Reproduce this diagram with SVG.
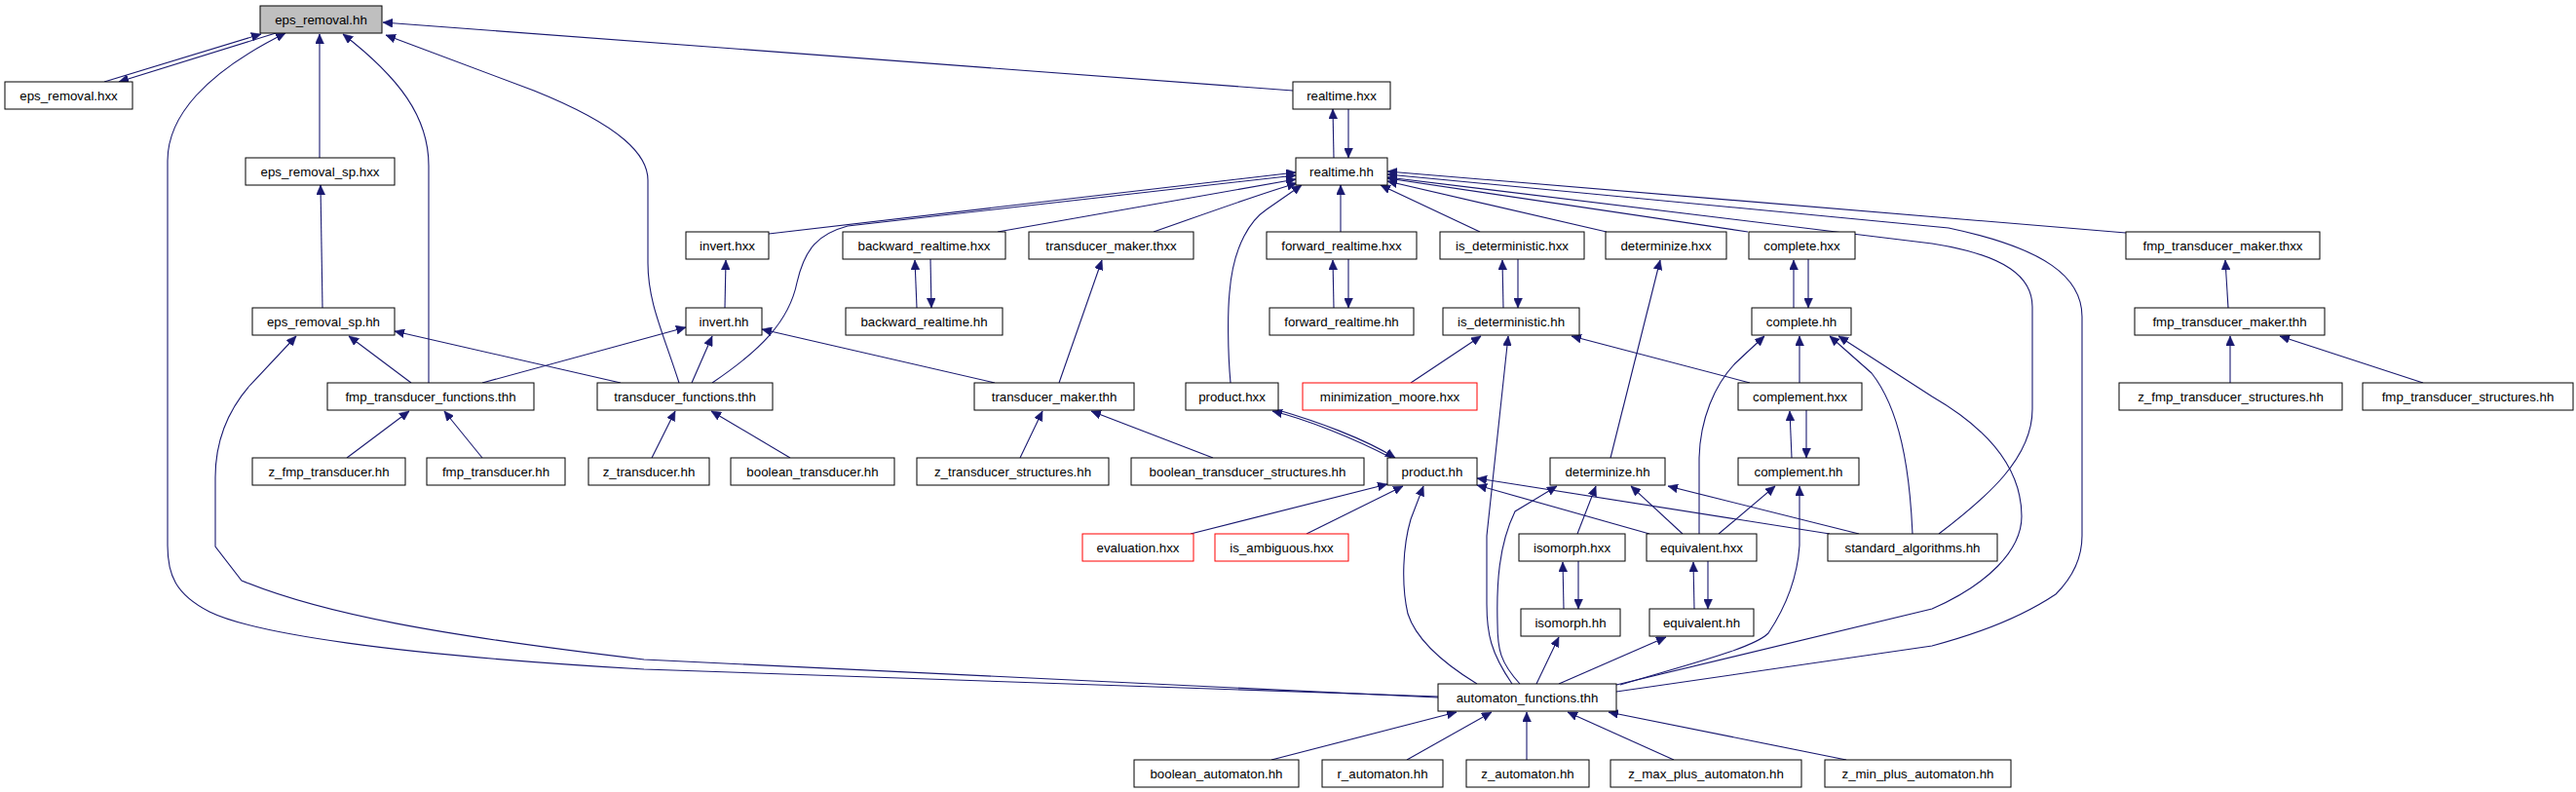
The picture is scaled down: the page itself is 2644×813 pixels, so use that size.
<svg xmlns="http://www.w3.org/2000/svg" width="2644" height="813" viewBox="0 0 2644 813">
<style>
rect{fill:#fff;stroke:#000;stroke-width:1}
rect.root{fill:#bfbfbf}
rect.red{stroke:#f00}
text{font-family:"Liberation Sans",Arial,sans-serif;font-size:13.3px;fill:#000;text-anchor:middle}
#edges path{fill:none;stroke:#191970;stroke-width:1.1;marker-end:url(#arr)}
</style>
<defs>
<marker id="arr" markerWidth="10" markerHeight="9" refX="10" refY="4.5" orient="auto" markerUnits="userSpaceOnUse"><path d="M0,0 L10,4.5 L0,9 z" fill="#191970" stroke="#191970" stroke-width="0.5"/></marker>
</defs>
<rect x="0" y="0" width="2644" height="813" style="fill:#fff;stroke:none"/>
<g id="edges">
<path d="M107,84 L268,35"/>
<path d="M283,34 L122,84"/>
<path d="M1476,715 L661,687 C400,672 260,650 215,628 C180,610 172,590 172,560 L172,165 C172,120 210,75 293,34"/>
<path d="M1476,716 L661,677 C450,652 330,630 248,596 L221,561 L221,490 C221,450 235,420 257,395 L304,345"/>
<path d="M328,162 L328,35"/>
<path d="M331,316 L329,190"/>
<path d="M440,393 L440,170 C440,120 410,80 352,35"/>
<path d="M697,393 C680,340 665,310 665,270 L665,185 C665,160 640,130 548,93 L396,36"/>
<path d="M1327,93 L393,23"/>
<path d="M1369,162 L1368,112"/>
<path d="M1384,112 L1384,162"/>
<path d="M789,240 L1330,177"/>
<path d="M731,393 C780,360 810,330 818,290 C826,255 840,240 870,232 L1330,180"/>
<path d="M1024,238 L1330,184"/>
<path d="M1184,238 C1230,222 1290,200 1331,188"/>
<path d="M1263,393 C1260,360 1260,320 1262,300 C1266,250 1285,225 1300,215 L1336,190"/>
<path d="M1376,238 L1376,190"/>
<path d="M1519,238 L1417,190"/>
<path d="M1649,238 L1424,186"/>
<path d="M1794,238 L1424,183"/>
<path d="M2182,239 L1424,176"/>
<path d="M1659,710 L1983,663 C2040,648 2080,630 2110,610 C2130,590 2137,570 2137,550 L2137,325 C2137,285 2100,255 2000,234 L1424,179"/>
<path d="M1990,548 C2040,510 2086,470 2086,420 L2086,315 C2086,285 2060,262 1983,250 L1424,182"/>
<path d="M1659,703 L1983,625 C2040,600 2075,565 2075,530 C2075,480 2040,440 1983,407 L1887,345"/>
<path d="M1963,548 C1960,480 1950,420 1921,383 L1878,345"/>
<path d="M1744,548 L1744,470 C1745,430 1760,395 1781,373 L1811,345"/>
<path d="M1847,393 L1847,345"/>
<path d="M1841,316 L1841,267"/>
<path d="M1856,266 L1856,316"/>
<path d="M1543,316 L1542,267"/>
<path d="M1558,266 L1558,316"/>
<path d="M1369,316 L1368,267"/>
<path d="M1384,266 L1384,316"/>
<path d="M941,316 L939,267"/>
<path d="M955,266 L956,316"/>
<path d="M1653,470 L1704,267"/>
<path d="M1087,393 L1131,267"/>
<path d="M744,316 L745,267"/>
<path d="M495,393 L704,336"/>
<path d="M710,393 L731,345"/>
<path d="M1021,393 L782,338"/>
<path d="M422,393 L358,345"/>
<path d="M637,393 L405,340"/>
<path d="M356,470 L420,422"/>
<path d="M495,470 L456,422"/>
<path d="M669,470 L693,422"/>
<path d="M811,470 L730,422"/>
<path d="M1047,470 L1070,422"/>
<path d="M1245,470 L1120,422"/>
<path d="M1448,393 L1520,345"/>
<path d="M1796,393 L1613,345"/>
<path d="M1552,702 C1530,670 1526,650 1526,620 L1526,550 L1548,345"/>
<path d="M1428,470 C1390,450 1340,430 1306,422"/>
<path d="M1312,421 C1350,432 1400,450 1432,470"/>
<path d="M1222,548 L1424,497"/>
<path d="M1341,548 L1440,499"/>
<path d="M1516,702 C1480,680 1453,655 1445,630 C1438,600 1440,560 1448,533 L1461,499"/>
<path d="M1693,548 L1516,498"/>
<path d="M1878,548 L1516,491"/>
<path d="M1560,702 C1540,680 1537,667 1537,640 C1536,600 1538,560 1555,525 L1598,499"/>
<path d="M1619,548 L1638,499"/>
<path d="M1727,548 L1674,499"/>
<path d="M1908,548 L1712,499"/>
<path d="M1839,470 L1837,422"/>
<path d="M1854,421 L1854,470"/>
<path d="M1764,548 L1822,499"/>
<path d="M1663,703 C1740,680 1800,665 1815,650 C1835,620 1845,590 1847,560 L1847,499"/>
<path d="M1605,625 L1604,577"/>
<path d="M1620,576 L1620,625"/>
<path d="M1739,625 L1738,577"/>
<path d="M1753,576 L1753,625"/>
<path d="M1577,702 L1600,654"/>
<path d="M1600,702 L1710,654"/>
<path d="M1305,780 L1495,731"/>
<path d="M1444,780 L1531,731"/>
<path d="M1567,780 L1567,731"/>
<path d="M1718,780 L1609,731"/>
<path d="M1895,780 L1651,731"/>
<path d="M2287,316 L2284,267"/>
<path d="M2289,393 L2289,345"/>
<path d="M2487,393 L2340,345"/>
</g>
<g id="n_eps_removal_hh"><rect class="root" x="267" y="6" width="125" height="28"/><text x="329.5" y="24.5">eps_removal.hh</text></g>
<g id="n_eps_removal_hxx"><rect x="5" y="84" width="131" height="28"/><text x="70.5" y="102.5">eps_removal.hxx</text></g>
<g id="n_realtime_hxx"><rect x="1327" y="84" width="100" height="28"/><text x="1377" y="102.5">realtime.hxx</text></g>
<g id="n_eps_removal_sp_hxx"><rect x="252" y="162" width="153" height="28"/><text x="328.5" y="180.5">eps_removal_sp.hxx</text></g>
<g id="n_realtime_hh"><rect x="1330" y="162" width="94" height="28"/><text x="1377" y="180.5">realtime.hh</text></g>
<g id="n_invert_hxx"><rect x="704" y="238" width="85" height="28"/><text x="746.5" y="256.5">invert.hxx</text></g>
<g id="n_backward_realtime_hxx"><rect x="865" y="238" width="167" height="28"/><text x="948.5" y="256.5">backward_realtime.hxx</text></g>
<g id="n_transducer_maker_thxx"><rect x="1056" y="238" width="169" height="28"/><text x="1140.5" y="256.5">transducer_maker.thxx</text></g>
<g id="n_forward_realtime_hxx"><rect x="1300" y="238" width="154" height="28"/><text x="1377" y="256.5">forward_realtime.hxx</text></g>
<g id="n_is_deterministic_hxx"><rect x="1478" y="238" width="148" height="28"/><text x="1552" y="256.5">is_deterministic.hxx</text></g>
<g id="n_determinize_hxx"><rect x="1648" y="238" width="124" height="28"/><text x="1710" y="256.5">determinize.hxx</text></g>
<g id="n_complete_hxx"><rect x="1795" y="238" width="109" height="28"/><text x="1849.5" y="256.5">complete.hxx</text></g>
<g id="n_fmp_transducer_maker_thxx"><rect x="2182" y="238" width="199" height="28"/><text x="2281.5" y="256.5">fmp_transducer_maker.thxx</text></g>
<g id="n_eps_removal_sp_hh"><rect x="259" y="316" width="146" height="28"/><text x="332" y="334.5">eps_removal_sp.hh</text></g>
<g id="n_invert_hh"><rect x="704" y="316" width="78" height="28"/><text x="743" y="334.5">invert.hh</text></g>
<g id="n_backward_realtime_hh"><rect x="868" y="316" width="161" height="28"/><text x="948.5" y="334.5">backward_realtime.hh</text></g>
<g id="n_forward_realtime_hh"><rect x="1303" y="316" width="148" height="28"/><text x="1377" y="334.5">forward_realtime.hh</text></g>
<g id="n_is_deterministic_hh"><rect x="1481" y="316" width="140" height="28"/><text x="1551" y="334.5">is_deterministic.hh</text></g>
<g id="n_complete_hh"><rect x="1798" y="316" width="102" height="28"/><text x="1849" y="334.5">complete.hh</text></g>
<g id="n_fmp_transducer_maker_thh"><rect x="2191" y="316" width="195" height="28"/><text x="2288.5" y="334.5">fmp_transducer_maker.thh</text></g>
<g id="n_fmp_transducer_functions_thh"><rect x="336" y="393" width="212" height="28"/><text x="442" y="411.5">fmp_transducer_functions.thh</text></g>
<g id="n_transducer_functions_thh"><rect x="613" y="393" width="180" height="28"/><text x="703" y="411.5">transducer_functions.thh</text></g>
<g id="n_transducer_maker_thh"><rect x="1000" y="393" width="164" height="28"/><text x="1082" y="411.5">transducer_maker.thh</text></g>
<g id="n_product_hxx"><rect x="1217" y="393" width="95" height="28"/><text x="1264.5" y="411.5">product.hxx</text></g>
<g id="n_minimization_moore_hxx"><rect class="red" x="1337" y="393" width="179" height="28"/><text x="1426.5" y="411.5">minimization_moore.hxx</text></g>
<g id="n_complement_hxx"><rect x="1784" y="393" width="127" height="28"/><text x="1847.5" y="411.5">complement.hxx</text></g>
<g id="n_z_fmp_transducer_structures_hh"><rect x="2175" y="393" width="229" height="28"/><text x="2289.5" y="411.5">z_fmp_transducer_structures.hh</text></g>
<g id="n_fmp_transducer_structures_hh"><rect x="2425" y="393" width="216" height="28"/><text x="2533" y="411.5">fmp_transducer_structures.hh</text></g>
<g id="n_z_fmp_transducer_hh"><rect x="259" y="470" width="157" height="28"/><text x="337.5" y="488.5">z_fmp_transducer.hh</text></g>
<g id="n_fmp_transducer_hh"><rect x="438" y="470" width="142" height="28"/><text x="509" y="488.5">fmp_transducer.hh</text></g>
<g id="n_z_transducer_hh"><rect x="604" y="470" width="124" height="28"/><text x="666" y="488.5">z_transducer.hh</text></g>
<g id="n_boolean_transducer_hh"><rect x="750" y="470" width="168" height="28"/><text x="834" y="488.5">boolean_transducer.hh</text></g>
<g id="n_z_transducer_structures_hh"><rect x="941" y="470" width="197" height="28"/><text x="1039.5" y="488.5">z_transducer_structures.hh</text></g>
<g id="n_boolean_transducer_structures_hh"><rect x="1161" y="470" width="239" height="28"/><text x="1280.5" y="488.5">boolean_transducer_structures.hh</text></g>
<g id="n_product_hh"><rect x="1424" y="470" width="92" height="28"/><text x="1470" y="488.5">product.hh</text></g>
<g id="n_determinize_hh"><rect x="1591" y="470" width="118" height="28"/><text x="1650" y="488.5">determinize.hh</text></g>
<g id="n_complement_hh"><rect x="1784" y="470" width="124" height="28"/><text x="1846" y="488.5">complement.hh</text></g>
<g id="n_evaluation_hxx"><rect class="red" x="1111" y="548" width="114" height="28"/><text x="1168" y="566.5">evaluation.hxx</text></g>
<g id="n_is_ambiguous_hxx"><rect class="red" x="1247" y="548" width="137" height="28"/><text x="1315.5" y="566.5">is_ambiguous.hxx</text></g>
<g id="n_isomorph_hxx"><rect x="1559" y="548" width="109" height="28"/><text x="1613.5" y="566.5">isomorph.hxx</text></g>
<g id="n_equivalent_hxx"><rect x="1690" y="548" width="113" height="28"/><text x="1746.5" y="566.5">equivalent.hxx</text></g>
<g id="n_standard_algorithms_hh"><rect x="1876" y="548" width="174" height="28"/><text x="1963" y="566.5">standard_algorithms.hh</text></g>
<g id="n_isomorph_hh"><rect x="1561" y="625" width="102" height="28"/><text x="1612" y="643.5">isomorph.hh</text></g>
<g id="n_equivalent_hh"><rect x="1693" y="625" width="107" height="28"/><text x="1746.5" y="643.5">equivalent.hh</text></g>
<g id="n_automaton_functions_thh"><rect x="1476" y="702" width="183" height="28"/><text x="1567.5" y="720.5">automaton_functions.thh</text></g>
<g id="n_boolean_automaton_hh"><rect x="1164" y="780" width="169" height="28"/><text x="1248.5" y="798.5">boolean_automaton.hh</text></g>
<g id="n_r_automaton_hh"><rect x="1357" y="780" width="124" height="28"/><text x="1419" y="798.5">r_automaton.hh</text></g>
<g id="n_z_automaton_hh"><rect x="1505" y="780" width="126" height="28"/><text x="1568" y="798.5">z_automaton.hh</text></g>
<g id="n_z_max_plus_automaton_hh"><rect x="1653" y="780" width="196" height="28"/><text x="1751" y="798.5">z_max_plus_automaton.hh</text></g>
<g id="n_z_min_plus_automaton_hh"><rect x="1873" y="780" width="191" height="28"/><text x="1968.5" y="798.5">z_min_plus_automaton.hh</text></g>
</svg>
